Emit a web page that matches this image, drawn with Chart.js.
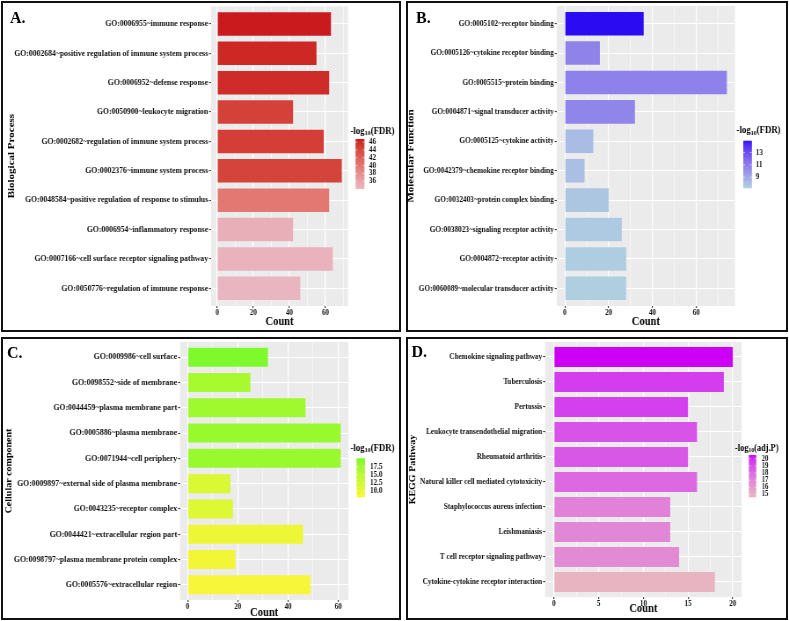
<!DOCTYPE html>
<html><head><meta charset="utf-8">
<script src="https://cdn.jsdelivr.net/npm/chart.js@4.4.0/dist/chart.umd.min.js"></script>
<style>
html,body{margin:0;padding:0;background:#fff;}
body{width:789px;height:621px;overflow:hidden;position:relative;font-family:'Liberation Serif',serif;}
canvas{position:absolute;left:0;top:0;transform-origin:0 0;}
.box{position:absolute;border:2px solid #111;box-sizing:border-box;}
.letter{position:absolute;font-weight:bold;font-size:16px;line-height:16px;color:#000;font-family:'Liberation Serif',serif;}
</style></head><body>
<div class="box" style="left:1px;top:1px;width:400px;height:331px"></div>
<div class="box" style="left:406px;top:1px;width:382px;height:331px"></div>
<div class="box" style="left:1px;top:337px;width:400px;height:283px"></div>
<div class="box" style="left:406px;top:337px;width:382px;height:283px"></div>
<script>
// ===== Data =====
const bpTerms = ["GO:0006955~immune response","GO:0002684~positive regulation of immune system process","GO:0006952~defense response","GO:0050900~leukocyte migration","GO:0002682~regulation of immune system process","GO:0002376~immune system process","GO:0048584~positive regulation of response to stimulus","GO:0006954~inflammatory response","GO:0007166~cell surface receptor signaling pathway","GO:0050776~regulation of immune response"];
const bpCount = [63,55,62,42,59,69,62,42,64,46];
const bpLogFDR = [46.8,46.2,46.0,44.6,44.8,44.4,40.0,34.8,34.5,34.2];
const bpCountTicks = [0,20,40,60];
const bpLegendTicks = [36,38,40,42,44,46];

const mfTerms = ["GO:0005102~receptor binding","GO:0005126~cytokine receptor binding","GO:0005515~protein binding","GO:0004871~signal transducer activity","GO:0005125~cytokine activity","GO:0042379~chemokine receptor binding","GO:0032403~protein complex binding","GO:0038023~signaling receptor activity","GO:0004872~receptor activity","GO:0060089~molecular transducer activity"];
const mfCount = [36,16,74,32,13,9,20,26,28,28];
const mfLogFDR = [14.9,10.6,10.7,10.5,8.1,8.0,7.7,7.5,7.4,7.3];
const mfCountTicks = [0,20,40,60];
const mfLegendTicks = [9,11,13];

const ccTerms = ["GO:0009986~cell surface","GO:0098552~side of membrane","GO:0044459~plasma membrane part","GO:0005886~plasma membrane","GO:0071944~cell periphery","GO:0009897~external side of plasma membrane","GO:0043235~receptor complex","GO:0044421~extracellular region part","GO:0098797~plasma membrane protein complex","GO:0005576~extracellular region"];
const ccCount = [32,25,47,61,61,17,18,46,19,49];
const ccLogFDR = [20.1,16.8,17.5,18.0,18.0,11.6,11.2,9.4,8.8,8.2];
const ccCountTicks = [0,20,40,60];
const ccLegendTicks = [10.0,12.5,15.0,17.5];

const keggTerms = ["Chemokine signaling pathway","Tuberculosis","Pertussis","Leukocyte transendothelial migration","Rheumatoid arthritis","Natural killer cell mediated cytotoxicity","Staphylococcus aureus infection","Leishmaniasis","T cell receptor signaling pathway","Cytokine-cytokine receptor interaction"];
const keggCount = [20,19,15,16,15,16,13,13,14,18];
const keggLogP = [20.5,19.6,19.5,18.9,18.8,18.1,17.1,16.9,16.7,14.7];
const keggCountTicks = [0,5,10,15,20];
const keggLegendTicks = [15,16,17,18,19,20];

// ===== Colour gradient (Lab interpolation, like ggplot2) =====
function hex2rgb(h){return [1,3,5].map(i=>parseInt(h.substr(i,2),16));}
function s2l(c){c/=255;return c<=0.04045?c/12.92:Math.pow((c+0.055)/1.055,2.4);}
function l2s(c){c=c<=0.0031308?12.92*c:1.055*Math.pow(Math.max(c,0),1/2.4)-0.055;return Math.round(Math.max(0,Math.min(1,c))*255);}
function rgb2lab(rgb){const [r,g,b]=rgb.map(s2l);
  const x=(0.4124*r+0.3576*g+0.1805*b)/0.95047,y=(0.2126*r+0.7152*g+0.0722*b),z=(0.0193*r+0.1192*g+0.9505*b)/1.08883;
  const f=t=>t>0.008856?Math.cbrt(t):7.787*t+16/116;const fx=f(x),fy=f(y),fz=f(z);
  return [116*fy-16,500*(fx-fy),200*(fy-fz)];}
function lab2rgb(lab){const [L,a,b]=lab;const fy=(L+16)/116,fx=fy+a/500,fz=fy-b/200;
  const fi=t=>t*t*t>0.008856?t*t*t:(t-16/116)/7.787;
  const x=fi(fx)*0.95047,y=fi(fy),z=fi(fz)*1.08883;
  const r=3.2406*x-1.5372*y-0.4986*z,g=-0.9689*x+1.8758*y+0.0415*z,bb=0.0557*x-0.2040*y+1.0570*z;
  return [r,g,bb].map(l2s);}
function grad(low,high,t){t=Math.max(0,Math.min(1,t));const a=rgb2lab(hex2rgb(low)),b=rgb2lab(hex2rgb(high));
  const c=lab2rgb(a.map((v,i)=>v+(b[i]-v)*t));return 'rgb('+c.join(',')+')';}

const FAMILY = "'Liberation Serif', serif";
// the reference figure is horizontally squeezed: draw on a wider canvas and squeeze it
const CW = 897, S = 789/CW;

// ===== Panel styles / layout (page pixels; x converted to canvas units below) =====
const panels = [
 {terms:bpTerms,counts:bpCount,score:bpLogFDR,xticks:bpCountTicks,lticks:bpLegendTicks,dec:0,
  yTitle:'Biological Process',lPost:'(FDR)',low:'#E9B5C0',high:'#CB1A1E',
  area:{l:211,r:348,t:5,b:306},wy:205.6,hx:23,yFont:8.75,yTitleFont:11,bar:0.8,
  cb:{x:355.7,y:139,w:8.6,h:49.3,tx:350.5,ty:131,lx:369,tf:10,lf:8},letter:{t:'A.',x:10,y:10}},
 {terms:mfTerms,counts:mfCount,score:mfLogFDR,xticks:mfCountTicks,lticks:mfLegendTicks,dec:0,
  yTitle:'Molecular Function',lPost:'(FDR)',low:'#AFCFE1',high:'#2B0BF2',
  area:{l:556.7,r:735,t:6,b:306},wy:151.6,hx:23,yFont:8.3,yTitleFont:11,bar:0.8,
  cb:{x:743.3,y:140.7,w:8.4,h:47,tx:736.5,ty:130.7,lx:755.7,tf:10,lf:8},letter:{t:'B.',x:416,y:10}},
 {terms:ccTerms,counts:ccCount,score:ccLogFDR,xticks:ccCountTicks,lticks:ccLegendTicks,dec:1,
  yTitle:'Cellular component',lPost:'(FDR)',low:'#F8F638',high:'#7EFA2C',
  area:{l:180,r:348.3,t:342,b:600},wy:176,hx:19.9,yFont:8.85,yTitleFont:10,bar:0.75,
  cb:{x:356.7,y:458.3,w:8.3,h:38.4,tx:350.5,ty:448.3,lx:370,tf:10,lf:8},letter:{t:'C.',x:7,y:345}},
 {terms:keggTerms,counts:keggCount,score:keggLogP,xticks:keggCountTicks,lticks:keggLegendTicks,dec:0,
  yTitle:'KEGG Pathway',lPost:'(adj.P)',low:'#E8B4C2',high:'#CC00F5',
  area:{l:545,r:741.7,t:342,b:597},wy:137,hx:19.6,yFont:8.2,yTitleFont:10,bar:0.8,
  cb:{x:749,y:455,w:7,h:41.7,tx:735,ty:448.3,lx:761.7,tf:9.5,lf:7.5},letter:{t:'D.',x:411.5,y:344}}
];

const bgPlugin = {id:'panelbg',beforeDraw(chart){const a=chart.chartArea,c=chart.ctx;c.save();c.fillStyle='#EBEBEB';
  c.fillRect(a.left,a.top,a.right-a.left,a.bottom-a.top);c.restore();}};

function legendPlugin(p,smin,smax){
  return {id:'cbar',afterDraw(chart){
    const c=chart.ctx,cb=p.cb;c.save();
    const bx=cb.x/S,bw=cb.w/S;
    c.fillStyle='#000';c.textBaseline='middle';c.textAlign='left';
    c.font='bold '+cb.tf+'px '+FAMILY;
    let x=cb.tx/S;c.fillText('-log',x,cb.ty);x+=c.measureText('-log').width;
    c.font='bold '+(cb.tf*0.68)+'px '+FAMILY;c.fillText('10',x,cb.ty+2.4);x+=c.measureText('10').width;
    c.font='bold '+cb.tf+'px '+FAMILY;c.fillText(p.lPost,x,cb.ty);
    const steps=Math.ceil(cb.h*2);
    for(let i=0;i<steps;i++){const t=1-(i+0.5)/steps;c.fillStyle=grad(p.low,p.high,t);
      c.fillRect(bx,cb.y+i*cb.h/steps,bw,cb.h/steps+0.6);}
    c.font='bold '+cb.lf+'px '+FAMILY;c.fillStyle='#111';
    p.lticks.forEach(v=>{const y=cb.y+cb.h-(v-smin)/(smax-smin)*cb.h;
      c.strokeStyle='#fff';c.lineWidth=0.6;c.beginPath();
      c.moveTo(bx,y);c.lineTo(bx+bw*0.2,y);c.moveTo(bx+bw*0.8,y);c.lineTo(bx+bw,y);c.stroke();
      c.fillText(v.toFixed(p.dec),cb.lx/S,y);});
    c.restore();}};
}

panels.forEach(p=>{
  const cv=document.createElement('canvas');cv.width=CW;cv.height=621;
  cv.style.width=CW+'px';cv.style.height='621px';cv.style.transform='scaleX('+S+')';
  document.body.appendChild(cv);
  const n=p.terms.length;
  const smin=Math.min(...p.score),smax=Math.max(...p.score);
  const cmax=Math.max(...p.counts);
  const xmin=-0.05*cmax,xmax=1.05*cmax;
  const step=p.xticks[1]-p.xticks[0];
  const xt=[];
  p.xticks.forEach(v=>xt.push({value:v,major:true}));
  for(let v=p.xticks[0]-step/2;v<=xmax;v+=step){if(v>=xmin)xt.push({value:v,major:false});}
  xt.sort((a,b)=>a.value-b.value);
  const a=p.area;
  new Chart(cv,{
    type:'bar',
    data:{datasets:[{data:p.counts.map((c,i)=>({x:c,y:i+1})),
      backgroundColor:p.score.map(s=>grad(p.low,p.high,(s-smin)/(smax-smin))),
      borderWidth:0,barPercentage:p.bar,categoryPercentage:1}]},
    options:{
      indexAxis:'y',responsive:false,animation:false,devicePixelRatio:1,
      layout:{padding:{left:(a.l-p.wy)/S,top:a.t,right:(789-a.r)/S,bottom:621-a.b-p.hx}},
      plugins:{legend:{display:false},tooltip:{enabled:false}},
      scales:{
        x:{type:'linear',min:xmin,max:xmax,offset:false,
          afterBuildTicks:s=>{s.ticks=xt.map(t=>({value:t.value,major:t.major}));},
          afterFit:s=>{s.height=p.hx;},
          ticks:{autoSkip:false,maxRotation:0,minRotation:0,padding:0,color:'#111',font:{family:FAMILY,size:8,weight:'bold'},
            callback:(v,i,t)=>t[i]&&t[i].major?String(v):''},
          grid:{offset:false,color:'#fff',lineWidth:c=>c.tick&&c.tick.major?1.2:0.55,
            tickColor:c=>c.tick&&c.tick.major?'#444':'rgba(0,0,0,0)',tickLength:2},
          border:{display:false},
          title:{display:true,text:'Count',color:'#000',padding:0,font:{family:FAMILY,size:12,weight:'bold'}}},
        y:{type:'linear',min:0.4,max:n+0.6,reverse:true,offset:false,
          afterBuildTicks:s=>{s.ticks=p.terms.map((t,i)=>({value:i+1}));},
          afterFit:s=>{s.width=p.wy/S;},
          ticks:{autoSkip:false,padding:1,color:'#111',font:{family:FAMILY,size:p.yFont,weight:'bold'},
            callback:v=>p.terms[Math.round(v)-1]},
          grid:{offset:false,color:'#fff',lineWidth:1.1,tickColor:'#444',tickLength:2.3},
          border:{display:false},
          title:{display:true,text:p.yTitle,color:'#000',padding:0,font:{family:FAMILY,size:p.yTitleFont,weight:'bold'}}}
      }
    },
    plugins:[bgPlugin,legendPlugin(p,smin,smax)]
  });
  const d=document.createElement('div');d.className='letter';d.textContent=p.letter.t;
  d.style.left=p.letter.x+'px';d.style.top=p.letter.y+'px';document.body.appendChild(d);
});
</script>
</body></html>
